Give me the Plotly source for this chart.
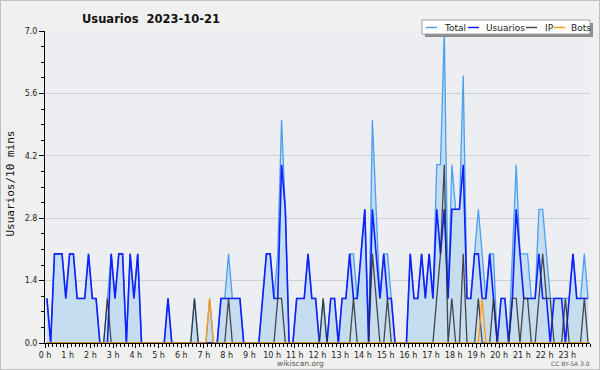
import plotly.graph_objects as go

# 10-minute bins, one row per hour (values per bin)
usuarios_by_hour = [
    [1, 0, 2, 2, 2, 1], [2, 2, 1, 1, 1, 2], [1, 1, 0, 0, 0, 2], [1, 2, 2, 0, 2, 1],
    [2, 0, 0, 0, 0, 0], [0, 0, 1, 0, 0, 0], [0, 0, 0, 0, 0, 0], [0, 0, 0, 0, 1, 1],
    [1, 1, 1, 1, 0, 0], [0, 0, 0, 1, 2, 2], [1, 1, 4, 3, 0, 0], [1, 1, 1, 2, 1, 1],
    [0, 0, 0, 1, 1, 0], [1, 1, 2, 1, 1, 2], [3, 0, 3, 2, 1, 2], [1, 1, 0, 0, 0, 0],
    [2, 1, 1, 2, 1, 2], [1, 3, 2, 3, 1, 3], [3, 3, 4, 1, 1, 2], [2, 1, 1, 2, 1, 0],
    [1, 1, 0, 1, 3, 2], [1, 1, 1, 1, 2, 1], [1, 0, 1, 1, 1, 0], [1, 2, 1, 1, 1, 1],
]
ip_by_hour = [
    [0, 0, 0, 0, 0, 0], [0, 0, 0, 0, 0, 0], [0, 0, 0, 0, 1, 0], [0, 0, 0, 0, 0, 0],
    [0, 0, 0, 0, 0, 0], [0, 0, 0, 0, 0, 0], [0, 0, 0, 1, 0, 0], [0, 0, 0, 0, 0, 0],
    [1, 0, 0, 0, 0, 0], [0, 0, 0, 0, 0, 0], [0, 1, 1, 0, 0, 0], [0, 0, 0, 0, 0, 0],
    [0, 1, 0, 0, 0, 0], [0, 0, 0, 1, 0, 0], [0, 0, 2, 1, 0, 0], [1, 0, 0, 0, 0, 0],
    [0, 0, 0, 0, 0, 0], [0, 1, 2, 4, 0, 1], [0, 0, 2, 0, 0, 0], [1, 0, 0, 0, 1, 0],
    [0, 0, 0, 1, 1, 0], [1, 1, 0, 0, 1, 2], [1, 1, 0, 0, 0, 1], [0, 0, 0, 0, 1, 0],
]
bots_by_hour = [
    [0, 0, 0, 0, 0, 0], [0, 0, 0, 0, 0, 0], [0, 0, 0, 0, 0, 0], [0, 0, 0, 0, 0, 0],
    [0, 0, 0, 0, 0, 0], [0, 0, 0, 0, 0, 0], [0, 0, 0, 0, 0, 0], [0, 1, 0, 0, 0, 0],
    [0, 0, 0, 0, 0, 0], [0, 0, 0, 0, 0, 0], [0, 0, 0, 0, 0, 0], [0, 0, 0, 0, 0, 0],
    [0, 0, 0, 0, 0, 0], [0, 0, 0, 0, 0, 0], [0, 0, 0, 0, 0, 0], [0, 0, 0, 0, 0, 0],
    [0, 0, 0, 0, 0, 0], [0, 0, 0, 0, 0, 0], [0, 0, 0, 0, 0, 0], [0, 1, 0, 0, 0, 0],
    [0, 0, 0, 0, 0, 0], [0, 0, 0, 0, 0, 0], [0, 0, 0, 0, 0, 0], [0, 0, 0, 0, 0, 0],
]
total_by_hour = [
    [1, 0, 2, 2, 2, 1], [2, 2, 1, 1, 1, 2], [1, 1, 0, 0, 1, 2], [1, 2, 2, 0, 2, 1],
    [2, 0, 0, 0, 0, 0], [0, 0, 1, 0, 0, 0], [0, 0, 0, 1, 0, 0], [0, 1, 0, 0, 1, 1],
    [2, 1, 1, 1, 0, 0], [0, 0, 0, 1, 2, 2], [1, 2, 5, 3, 0, 0], [1, 1, 1, 2, 1, 1],
    [0, 1, 0, 1, 1, 0], [1, 1, 2, 2, 1, 2], [3, 0, 5, 3, 1, 2], [2, 1, 0, 0, 0, 0],
    [2, 1, 1, 2, 1, 2], [1, 4, 4, 7, 1, 4], [3, 3, 6, 1, 1, 2], [3, 2, 1, 2, 2, 0],
    [1, 1, 0, 2, 4, 2], [2, 2, 1, 1, 3, 3], [2, 1, 1, 1, 1, 1], [1, 2, 1, 1, 2, 1],
]
hour_labels = [f"{h} h" for h in range(24)]
y_ticks = [0.0, 1.4, 2.8, 4.2, 5.6, 7.0]

title_text = "Usuarios\u00a0\u00a02023-10-21"
legend_names = ["Total", "Usuarios", "IP", "Bots"]
colors = {"Total": "#4a9ff0", "Usuarios": "#1020ff", "IP": "rgba(45,45,45,0.85)", "Bots": "#ff9a10"}


def flat(rows):
    return [v for r in rows for v in r]


total = flat(total_by_hour)
usuarios = flat(usuarios_by_hour)
ip = flat(ip_by_hour)
bots = flat(bots_by_hour)
minutes = [i * 10 + 5 for i in range(len(total))]  # bin centres

W, H = 600, 370
L, R, T, B = 45, 10, 31, 27
PW, PH = W - L - R, H - T - B


def px(x):
    return (x - L) / PW


def py(y):
    return (H - B - y) / PH


fig = go.Figure()
fig.add_trace(go.Scatter(x=minutes, y=total, mode="lines", name="Total",
                         line=dict(color=colors["Total"], width=1.3),
                         fill="tozeroy", fillcolor="rgb(198,221,240)"))
fig.add_trace(go.Scatter(x=minutes, y=usuarios, mode="lines", name="Usuarios",
                         line=dict(color=colors["Usuarios"], width=1.6)))
fig.add_trace(go.Scatter(x=minutes, y=ip, mode="lines", name="IP",
                         line=dict(color=colors["IP"], width=1.3)))
fig.add_trace(go.Scatter(x=minutes, y=bots, mode="lines", name="Bots",
                         line=dict(color=colors["Bots"], width=1.3)))

fig.update_layout(
    width=W, height=H, margin=dict(l=L, r=R, t=T, b=B, pad=0),
    paper_bgcolor="#f0f0f0", plot_bgcolor="#eceef1",
    showlegend=False,
    font=dict(family="DejaVu Sans", size=8, color="#222"),
)
fig.update_xaxes(
    range=[0, 1440], tickmode="array", tickvals=[h * 60 for h in range(24)],
    ticktext=hour_labels, ticks="outside", ticklen=4, tickcolor="black",
    showline=True, linecolor="black", linewidth=1.2, showgrid=False, zeroline=False,
    minor=dict(dtick=10, tick0=0, ticks="outside", ticklen=3, tickcolor="black", showgrid=False),
    tickfont=dict(size=8), layer="above traces",
)
fig.update_yaxes(
    range=[0, 7], tickmode="array", tickvals=y_ticks, ticktext=[f"{v:.1f}" for v in y_ticks],
    ticks="outside", ticklen=5, tickcolor="black",
    showline=True, linecolor="black", linewidth=1,
    showgrid=True, gridcolor="#cfcfcf", gridwidth=1, zeroline=False,
    minor=dict(dtick=0.35, tick0=0, ticks="outside", ticklen=3, tickcolor="black", showgrid=False),
    tickfont=dict(size=8), layer="above traces",
)

shapes = []
annotations = []
# outer border
shapes.append(dict(type="rect", xref="paper", yref="paper", x0=px(0.5), x1=px(599.5),
                   y0=py(0.5), y1=py(369.5), line=dict(color="#c0c0c0", width=1)))
# legend box with shadow
shapes.append(dict(type="rect", xref="paper", yref="paper", x0=px(425), x1=px(593),
                   y0=py(23), y1=py(37), fillcolor="#8c8c8c", line=dict(width=0)))
shapes.append(dict(type="rect", xref="paper", yref="paper", x0=px(422), x1=px(590),
                   y0=py(20), y1=py(34), fillcolor="white", line=dict(color="#a0a0a0", width=1)))
legend_pos = [(426, 442), (468, 484), (526, 543), (554, 569)]
for name, (lx, tx) in zip(legend_names, legend_pos):
    shapes.append(dict(type="line", xref="paper", yref="paper", x0=px(lx), x1=px(lx + 11),
                       y0=py(27.5), y1=py(27.5), line=dict(color=colors[name], width=1.5)))
    annotations.append(dict(text=name, xref="paper", yref="paper", x=px(tx), y=py(27.5),
                            xanchor="left", yanchor="middle", showarrow=False,
                            font=dict(family="DejaVu Sans", size=9, color="#222")))

annotations.append(dict(text=f"<b>{title_text}</b>", xref="paper", yref="paper",
                        x=px(150.5), y=py(19), xanchor="center", yanchor="middle", showarrow=False,
                        font=dict(family="DejaVu Sans", size=11.5, color="#111")))
annotations.append(dict(text="Usuarios/10 mins", xref="paper", yref="paper", textangle=-90,
                        x=px(9.5), y=py(184), xanchor="center", yanchor="middle", showarrow=False,
                        font=dict(family="DejaVu Sans Mono", size=11, color="#111")))
annotations.append(dict(text="wikiscan.org", xref="paper", yref="paper",
                        x=px(300), y=py(363.5), xanchor="center", yanchor="middle", showarrow=False,
                        font=dict(family="DejaVu Sans", size=7.5, color="#555")))
annotations.append(dict(text="CC BY-SA 3.0", xref="paper", yref="paper",
                        x=px(592), y=py(363), xanchor="right", yanchor="middle", showarrow=False,
                        font=dict(family="DejaVu Sans", size=6, color="#555")))

fig.update_layout(shapes=shapes, annotations=annotations)
fig.write_html("out.html", config={"displayModeBar": False},
               post_script="document.body.style.margin='0';document.body.style.overflow='hidden';")
